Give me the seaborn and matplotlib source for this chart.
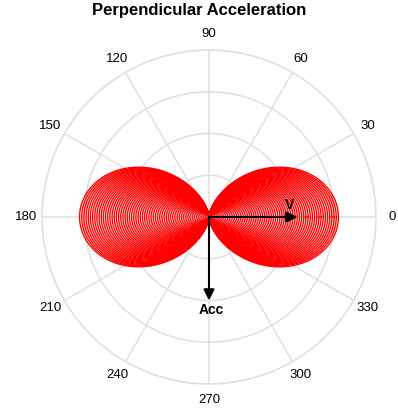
import numpy as np
import pandas as pd
import matplotlib
matplotlib.use("Agg")
import matplotlib.pyplot as plt
import seaborn as sns

# ---- data ----
title = "Perpendicular Acceleration"
angle_ticks = [0, 30, 60, 90, 120, 150, 180, 210, 240, 270, 300, 330]
ring_levels = [0.25, 0.5, 0.75, 1.0]
lobe_scales = list(np.round(np.linspace(0.01, 0.775, 60), 4))  # amplitude of each overlaid pattern
v_arrow = (0.0, 0.53)               # (angle deg, length)
acc_arrow = (270.0, 0.50)

# pattern: dipole radiation, intensity ~ cos^2(theta) for acceleration perpendicular to V
theta = np.linspace(0, 2 * np.pi, 721)
rows = []
for k, s in enumerate(lobe_scales):
    r = s * np.cos(theta) ** 2
    rows.append(pd.DataFrame({"theta": theta, "r": r, "curve": k}))
df = pd.concat(rows, ignore_index=True)

sns.set_theme(style="white")
plt.rcParams["font.family"] = ["Liberation Sans", "DejaVu Sans"]
plt.rcParams["text.color"] = "black"

fig = plt.figure(figsize=(3.98, 4.19), dpi=100)
ax = fig.add_axes([42 / 398, 35 / 419, 334 / 398, 334 / 419], projection="polar")

sns.lineplot(data=df, x="theta", y="r", units="curve", estimator=None, sort=False,
             color="red", linewidth=1.0, ax=ax, legend=False)

ax.set_ylim(0, 1.0)
ax.set_yticks(ring_levels)
ax.set_yticklabels([])
ax.set_xticks(np.deg2rad(angle_ticks))
ax.set_xticklabels([str(a) for a in angle_ticks], fontsize=9.5, color="black")
ax.tick_params(axis="x", pad=-1.5)
ax.grid(True, color="#e0e0e0", linewidth=1.1)
ax.spines["polar"].set_color("#e0e0e0")
ax.spines["polar"].set_linewidth(1.1)
ax.set_xlabel("")
ax.set_ylabel("")
ax.set_facecolor("white")

arrow_kw = dict(arrowstyle="-|>", color="black", lw=1.5, mutation_scale=16, shrinkA=0, shrinkB=0)
ax.annotate("", xy=(np.deg2rad(v_arrow[0]), v_arrow[1]), xytext=(0, 0), arrowprops=arrow_kw)
ax.annotate("", xy=(np.deg2rad(acc_arrow[0]), acc_arrow[1]), xytext=(0, 0), arrowprops=arrow_kw)
ax.text(np.deg2rad(8.5), 0.485, "V", fontsize=10, fontweight="bold", ha="center", va="center", color="black")
ax.text(np.deg2rad(271.5), acc_arrow[1] + 0.06, "Acc", fontsize=10, fontweight="bold", ha="center", va="center", color="black")

fig.suptitle(title, fontsize=12, fontweight="bold", y=0.992, color="black")
fig.savefig("out.png", dpi=100, facecolor="white")
